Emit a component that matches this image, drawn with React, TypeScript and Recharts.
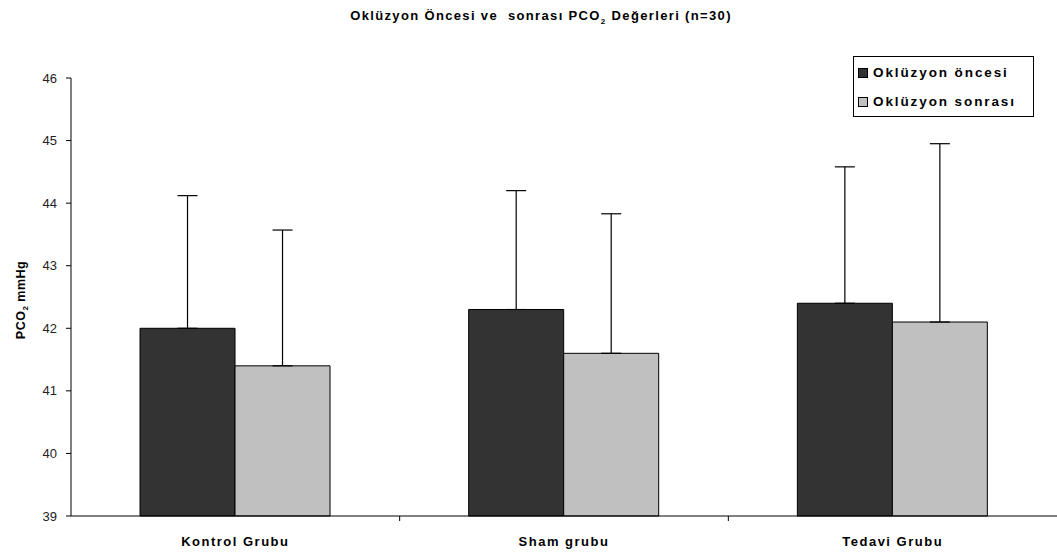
import { BarChart, Bar, XAxis, YAxis, ErrorBar } from 'recharts'

const categories = ['Kontrol Grubu', 'Sham grubu', 'Tedavi Grubu']
const oncesi = [42.0, 42.3, 42.4]
const sonrasi = [41.4, 41.6, 42.1]
const oncesiSd = [2.12, 1.9, 2.18]
const sonrasiSd = [2.17, 2.23, 2.85]
const yTicks = [39, 40, 41, 42, 43, 44, 45, 46]

const data = categories.map((name, i) => ({
  name,
  oncesi: oncesi[i],
  sonrasi: sonrasi[i],
  oncesiErr: [0, oncesiSd[i]],
  sonrasiErr: [0, sonrasiSd[i]],
}))

const FONT = '"Liberation Sans", Arial, sans-serif'

function CatTick(props: any) {
  const { x, y, payload, index } = props
  const off = payload.offset || 0
  return (
    <g>
      {index > 0 && <line x1={x - off} x2={x - off} y1={y - 8} y2={y - 3} stroke="#000" />}
      <text x={x} y={y + 22} textAnchor="middle" fontFamily={FONT} fontWeight="bold" fontSize={13}
        letterSpacing={1.5} fill="#000">{payload.value}</text>
    </g>
  )
}

function LegendBox() {
  const items = [
    { label: 'Oklüzyon öncesi', color: '#333333' },
    { label: 'Oklüzyon sonrası', color: '#c0c0c0' },
  ]
  return (
    <div style={{ position: 'absolute', left: 853, top: 56, border: '1px solid #000', background: '#fff', width: 181, height: 61, boxSizing: 'border-box', padding: '1px 0 0 4px' }}>
      {items.map(it => (
        <div key={it.label} style={{ display: 'flex', alignItems: 'center', height: 29, fontFamily: FONT, fontWeight: 'bold', fontSize: 13.5, letterSpacing: 1.9 }}>
          <span style={{ width: 8, height: 8, background: it.color, border: '1px solid #000', marginRight: 5 }} />
          {it.label}
        </div>
      ))}
    </div>
  )
}

export default function App() {
  return (
    <div style={{ position: 'absolute', left: 0, top: 0, width: 1057, height: 558, background: '#fff' }}>
      <BarChart width={1057} height={558} data={data} barCategoryGap="21%" barGap={0}
        margin={{ top: 78, right: 0, bottom: 12, left: 0 }}>
        <XAxis dataKey="name" stroke="#000" tickLine={false} tick={<CatTick />} interval={0} height={30} />
        <YAxis domain={[39, 46]} ticks={yTicks} width={71} stroke="#000" tickSize={5} tickMargin={9}
          tick={{ fontFamily: FONT, fontSize: 13, fill: '#222' }} />
        <Bar dataKey="oncesi" fill="#333333" stroke="#000" strokeWidth={1} isAnimationActive={false}>
          <ErrorBar dataKey="oncesiErr" width={10} stroke="#000" strokeWidth={1.2} />
        </Bar>
        <Bar dataKey="sonrasi" fill="#c0c0c0" stroke="#000" strokeWidth={1} isAnimationActive={false}>
          <ErrorBar dataKey="sonrasiErr" width={10} stroke="#000" strokeWidth={1.2} />
        </Bar>
      </BarChart>
      <div style={{ position: 'absolute', top: 8, left: 0, width: 1082, textAlign: 'center', fontFamily: FONT, fontWeight: 'bold', fontSize: 13, letterSpacing: 1.35 }}>
        Oklüzyon Öncesi ve&nbsp; sonrası PCO<sub style={{ fontSize: 8 }}>2</sub> Değerleri (n=30)
      </div>
      <div style={{ position: 'absolute', left: 22, top: 300, transform: 'translate(-50%, -50%) rotate(-90deg)', whiteSpace: 'nowrap', fontFamily: FONT, fontWeight: 'bold', fontSize: 12.5, letterSpacing: 0.5 }}>
        PCO<sub style={{ fontSize: 8 }}>2</sub> mmHg
      </div>
      <LegendBox />
    </div>
  )
}
